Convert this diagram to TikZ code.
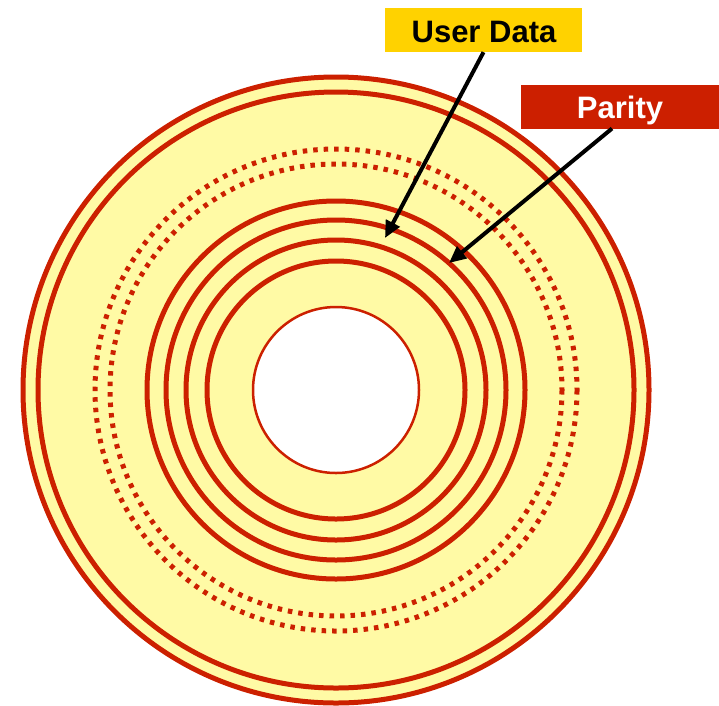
\documentclass[tikz,border=0pt]{standalone}
\usepackage{fontspec}
\setmainfont{Liberation Sans}
\usetikzlibrary{arrows.meta}
\definecolor{diskred}{HTML}{CC2000}
\definecolor{diskfill}{HTML}{FFFAA5}
\definecolor{labelyellow}{HTML}{FFD200}
\definecolor{labelred}{HTML}{CC1F00}
\begin{document}
\begin{tikzpicture}[x=1pt,y=-1pt,
  track/.style={draw=diskred,line width=5pt},
  dottrack/.style={draw=diskred,line width=5pt,dash pattern=on 4.5pt off 6pt},
  label/.style={font=\fontsize{31}{36}\selectfont\bfseries,inner sep=0pt,
    minimum height=44pt},
  pointer/.style={draw=black,line width=4pt,-{Triangle[length=17pt,width=15pt]}}]
\useasboundingbox (0,0) rectangle (719,705);
\coordinate (c) at (336,390);
% disk body with centre hole
\fill[diskfill,even odd rule] (c) circle[radius=315] (c) circle[radius=83];
% outer rims
\draw[track] (c) circle[radius=313];
\draw[track] (c) circle[radius=298];
% dotted tracks
\draw[dottrack] (c) circle[radius=241];
\draw[dottrack] (c) circle[radius=226];
% solid tracks
\draw[track] (c) circle[radius=189];
\draw[track] (c) circle[radius=170];
\draw[track] (c) circle[radius=150];
\draw[track] (c) circle[radius=129];
% centre hole
\draw[draw=diskred,line width=2.5pt,fill=white] (c) circle[radius=83];
% labels
\node[label,fill=labelyellow,minimum width=197pt] (ud) at (483.5,30) {};
\node[label,fill=labelred,minimum width=200pt] (par) at (621,106.5) {};
\node[font=\fontsize{31}{36}\selectfont\bfseries,text=black,anchor=base,inner sep=0pt]
  (udtext) at (484,42) {User Data};
\node[font=\fontsize{31}{36}\selectfont\bfseries,text=white,anchor=base,inner sep=0pt]
  (partext) at (620,118.5) {Parity};
\coordinate (udtip) at (385,238);
\coordinate (partip) at (449,263);
\coordinate (parfoot) at (612,128.5);
\draw[pointer] (ud.south) -- (udtip);
\draw[pointer] (parfoot) -- (partip);
\end{tikzpicture}
\end{document}
